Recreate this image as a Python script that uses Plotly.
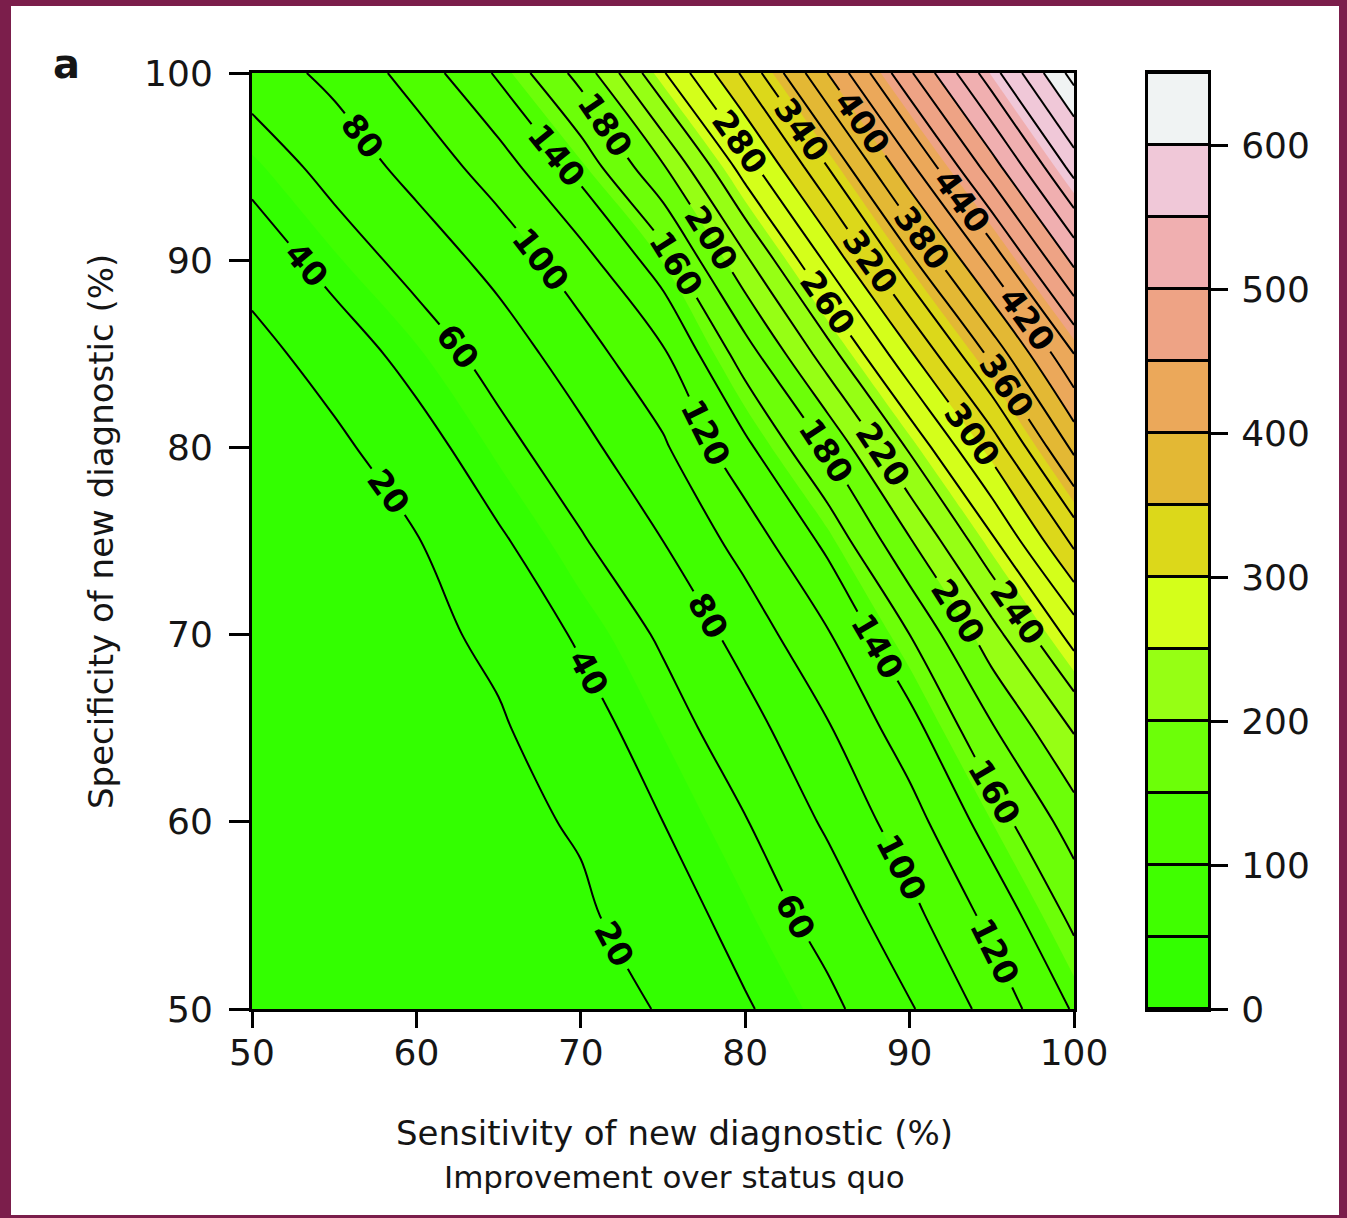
import plotly.graph_objects as go

# ---------------- data ----------------
sensitivity = [50, 55, 60, 65, 70, 75, 80, 85, 90, 95, 100]   # x, %
specificity = [50, 55, 60, 65, 70, 75, 80, 85, 90, 95, 100]   # y, %

# improvement over status quo, one row per specificity value (bottom -> top)
spec_50 = [0, 3, 6, 10, 14, 21, 38, 55, 78, 107, 142]
spec_55 = [0.5, 4, 8, 12, 17, 30, 48, 68, 94, 126, 165]
spec_60 = [1, 5, 10, 15, 22, 40, 59, 83, 111, 150, 190]
spec_65 = [2, 7, 12, 18, 31, 51, 72, 98, 132, 178, 222]
spec_70 = [3, 9, 15, 24, 43, 63, 88, 118, 160, 212, 268]
spec_75 = [5, 12, 19, 37, 58, 80, 108, 145, 198, 256, 325]
spec_80 = [8, 16, 31, 53, 74, 97, 135, 182, 243, 308, 385]
spec_85 = [14, 28, 48, 69, 91, 117, 170, 231, 297, 366, 440]
spec_90 = [27, 48, 68, 87, 112, 151, 216, 284, 355, 427, 505]
spec_95 = [47, 68, 87, 110, 147, 198, 270, 340, 415, 491, 568]
spec_100 = [70, 85, 108, 143, 187, 258, 325, 400, 477, 552, 628]
improvement = [spec_50, spec_55, spec_60, spec_65, spec_70, spec_75,
               spec_80, spec_85, spec_90, spec_95, spec_100]

band_edges = [0, 50, 100, 150, 200, 250, 300, 350, 400, 450, 500, 550, 600, 650]
band_colors = ["#33FF00", "#40FF00", "#4EFF00", "#6CFF08", "#96FF14",
               "#D4FF1A", "#DCD81A", "#E3B834", "#EBA85A", "#EEA385",
               "#F0AFB0", "#F0C8D8", "#F0F3F3"]
line_step = 20
axis_ticks = [50, 60, 70, 80, 90, 100]
key_ticks = [0, 100, 200, 300, 400, 500, 600]

# ---------------- layout geometry ----------------
W, H = 1347, 1218
ML, MR, MT, MB = 252, 139, 73, 209
PW, PH = W - ML - MR, H - MT - MB
FONT = "DejaVu Sans"
INK = "#151515"
FRAME = "#7B1E4B"


def px_x(p):
    return (p - ML) / PW


def px_y(p):
    return (H - MB - p) / PH


n_bands = len(band_colors)
fill_scale = [[k / (n_bands - 1), c] for k, c in enumerate(band_colors)]

fig = go.Figure()

# filled bands (50 units)
fig.add_trace(go.Contour(
    x=sensitivity, y=specificity, z=improvement,
    autocontour=False,
    contours=dict(start=band_edges[1], end=band_edges[-2],
                  size=band_edges[1] - band_edges[0],
                  coloring="fill", showlines=False),
    colorscale=fill_scale, showscale=False,
    line=dict(width=0), hoverinfo="skip",
    xaxis="x", yaxis="y",
))

# contour lines every 20 with labels
fig.add_trace(go.Contour(
    x=sensitivity, y=specificity, z=improvement,
    autocontour=False,
    contours=dict(start=line_step, end=640, size=line_step,
                  coloring="none", showlabels=True,
                  labelfont=dict(family=FONT, size=33, color="black",
                                 weight="bold")),
    line=dict(color="black", width=2),
    showscale=False, hoverinfo="skip",
    xaxis="x", yaxis="y",
))

# colour key drawn as a one-column heatmap
band_centers = [(a + b) / 2 for a, b in zip(band_edges[:-1], band_edges[1:])]
fig.add_trace(go.Heatmap(
    x=[0], y=band_centers, z=[[k] for k in range(n_bands)],
    zmin=0, zmax=n_bands - 1, colorscale=fill_scale, showscale=False,
    ygap=3, hoverinfo="skip", xaxis="x2", yaxis="y2",
))

axis_common = dict(showline=True, linewidth=3, linecolor="black", mirror=True,
                   showgrid=False, zeroline=False, ticks="outside",
                   tickwidth=3, tickcolor="black",
                   tickfont=dict(family=FONT, size=36, color=INK))

main_right = (1074 - ML) / PW
key_left = (1148 - ML) / PW

fig.update_layout(
    width=W, height=H,
    margin=dict(l=ML, r=MR, t=MT, b=MB, pad=0),
    paper_bgcolor="white", plot_bgcolor="black",
    showlegend=False,
    xaxis=dict(domain=[0, main_right], range=[50, 100], tickvals=axis_ticks,
               ticklen=16, ticklabelstandoff=-6, **axis_common),
    yaxis=dict(domain=[0, 1], range=[50, 100], tickvals=axis_ticks,
               ticklen=20, ticklabelstandoff=9, **axis_common),
    xaxis2=dict(domain=[key_left, 1], range=[-0.5, 0.5], anchor="y2",
                showline=True, linewidth=3, linecolor="black", mirror=True,
                showgrid=False, zeroline=False, showticklabels=False, ticks=""),
    yaxis2=dict(domain=[0, 1], range=[band_edges[0], band_edges[-1]],
                anchor="x2", side="right", tickvals=key_ticks, ticklen=17,
                ticklabelstandoff=6, **axis_common),
)

annotations = [
    dict(text="Sensitivity of new diagnostic (%)", x=px_x(674), y=px_y(1133),
         font=dict(family=FONT, size=34, color=INK)),
    dict(text="Improvement over status quo", x=px_x(674), y=px_y(1177),
         font=dict(family=FONT, size=31, color=INK)),
    dict(text="Specificity of new diagnostic (%)", x=px_x(101), y=px_y(532),
         textangle=-90, font=dict(family=FONT, size=34, color=INK)),
    dict(text="<b>a</b>", x=px_x(66), y=px_y(64),
         font=dict(family=FONT, size=40, color=INK)),
]
for a in annotations:
    fig.add_annotation(xref="paper", yref="paper", showarrow=False,
                       xanchor="center", yanchor="middle", **a)

# purple frame round the figure
frame_rects = [(0, 0, 11, H), (0, 0, W, 6), (W - 8, 0, W, H), (0, H - 3, W, H)]
for x0, y0, x1, y1 in frame_rects:
    fig.add_shape(type="rect", xref="paper", yref="paper",
                  x0=px_x(x0), x1=px_x(x1), y0=px_y(y1), y1=px_y(y0),
                  fillcolor=FRAME, line=dict(width=0), layer="above")

fig.write_html("out.html")
